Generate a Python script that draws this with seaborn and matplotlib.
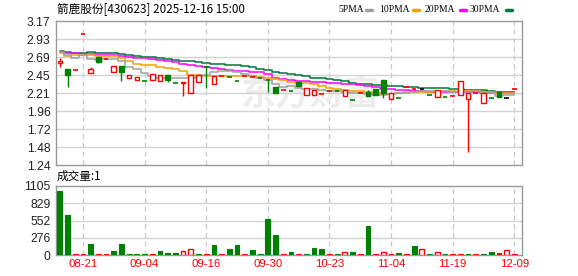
import numpy as np
import pandas as pd
import matplotlib
matplotlib.use("Agg")
import matplotlib.pyplot as plt
from matplotlib.lines import Line2D
import seaborn as sns

# ---------------- data ----------------
title_text = "箭鹿股份[430623] 2025-12-16 15:00"
vol_label = "成交量:1"

opens = [2.61, 2.53, 2.51, 3.00, 2.47, 2.69, 2.66, 2.48, 2.57, 2.40,
         2.38, 2.37, 2.38, 2.36, 2.44, 2.34, 2.345, 2.21, 2.35, 2.56,
         2.33, 2.43, 2.42, 2.36, 2.43, 2.415, 2.41, 2.375, 2.28, 2.245,
         2.235, 2.35, 2.18, 2.18, 2.185, 2.23, 2.23, 2.17, 2.115, 2.20,
         2.225, 2.26, 2.38, 2.13, 2.136, 2.29, 2.255, 2.255, 2.176, 2.145,
         2.145, 2.163, 2.18, 2.12, 2.21, 2.07, 2.136, 2.22, 2.136, 2.255]
highs = [2.68, 2.53, 2.51, 3.00, 2.55, 2.69, 2.66, 2.57, 2.57, 2.44,
         2.42, 2.37, 2.46, 2.44, 2.44, 2.34, 2.355, 2.44, 2.44, 2.57,
         2.43, 2.43, 2.42, 2.36, 2.43, 2.415, 2.41, 2.39, 2.28, 2.245,
         2.235, 2.35, 2.27, 2.25, 2.185, 2.23, 2.23, 2.24, 2.115, 2.20,
         2.24, 2.26, 2.38, 2.20, 2.136, 2.29, 2.27, 2.255, 2.176, 2.247,
         2.145, 2.163, 2.36, 2.21, 2.21, 2.21, 2.136, 2.225, 2.136, 2.255]
lows = [2.55, 2.29, 2.51, 3.00, 2.47, 2.61, 2.66, 2.48, 2.37, 2.40,
        2.38, 2.37, 2.38, 2.36, 2.35, 2.34, 2.17, 2.21, 2.35, 2.27,
        2.33, 2.43, 2.42, 2.36, 2.43, 2.415, 2.41, 2.22, 2.21, 2.245,
        2.235, 2.30, 2.18, 2.18, 2.185, 2.23, 2.23, 2.17, 2.115, 2.20,
        2.16, 2.18, 2.14, 2.13, 2.136, 2.29, 2.25, 2.255, 2.176, 2.145,
        2.145, 2.163, 2.18, 1.41, 2.21, 2.07, 2.136, 2.145, 2.136, 2.255]
closes = [2.63, 2.45, 2.51, 3.00, 2.53, 2.62, 2.66, 2.57, 2.48, 2.44,
          2.42, 2.37, 2.46, 2.44, 2.38, 2.34, 2.355, 2.44, 2.44, 2.56,
          2.43, 2.43, 2.42, 2.36, 2.43, 2.415, 2.41, 2.375, 2.21, 2.245,
          2.235, 2.30, 2.27, 2.25, 2.185, 2.23, 2.23, 2.24, 2.115, 2.20,
          2.165, 2.18, 2.20, 2.20, 2.136, 2.29, 2.255, 2.255, 2.176, 2.247,
          2.145, 2.163, 2.36, 2.21, 2.21, 2.21, 2.136, 2.15, 2.136, 2.255]
# colour of flat (doji) candles: r red, g green, k black
doji_colors = ["r", "g", "r", "r", "r", "g", "r", "r", "g", "r",
               "r", "g", "r", "r", "g", "g", "r", "r", "r", "g",
               "r", "r", "g", "g", "r", "r", "g", "g", "g", "r",
               "g", "g", "r", "r", "r", "r", "g", "r", "g", "r",
               "g", "g", "g", "r", "g", "r", "r", "k", "g", "r",
               "g", "r", "r", "r", "r", "r", "g", "g", "k", "r"]

volumes = [1025, 646, 12, 12, 181, 12, 12, 69, 181, 16,
           16, 16, 12, 64, 32, 32, 64, 96, 16, 12,
           160, 12, 96, 160, 12, 80, 16, 577, 320, 12,
           48, 12, 16, 112, 96, 12, 16, 48, 48, 12,
           464, 12, 48, 12, 32, 12, 144, 96, 16, 48,
           16, 12, 12, 16, 12, 16, 48, 32, 80, 12]
# g green filled, r red filled, h red hollow
vol_styles = ["g", "g", "r", "r", "g", "r", "r", "g", "g", "g",
              "g", "g", "r", "g", "g", "g", "h", "h", "g", "r",
              "g", "r", "g", "g", "r", "g", "g", "g", "g", "r",
              "g", "r", "g", "g", "g", "r", "g", "h", "g", "r",
              "g", "r", "h", "r", "g", "r", "g", "h", "g", "h",
              "g", "r", "r", "g", "r", "g", "g", "r", "h", "r"]

ma5 = [2.75, 2.72, 2.68, 2.72, 2.66, 2.645, 2.66, 2.665, 2.64, 2.56,
       2.52, 2.47, 2.43, 2.41, 2.41, 2.40, 2.40, 2.41, 2.42, 2.45,
       2.49, 2.50, 2.50, 2.49, 2.46, 2.43, 2.40, 2.38, 2.32, 2.29,
       2.30, 2.27, 2.265, 2.255, 2.25, 2.235, 2.23, 2.22, 2.21, 2.205,
       2.19, 2.18, 2.18, 2.19, 2.20, 2.215, 2.225, 2.233, 2.235, 2.235,
       2.23, 2.225, 2.22, 2.225, 2.23, 2.22, 2.20, 2.17, 2.175, 2.18]
ma10 = [2.745, 2.70, 2.72, 2.72, 2.72, 2.705, 2.70, 2.695, 2.68, 2.63,
        2.60, 2.585, 2.575, 2.55, 2.535, 2.52, 2.505, 2.45, 2.44, 2.43,
        2.43, 2.43, 2.43, 2.43, 2.43, 2.43, 2.425, 2.41, 2.395, 2.375,
        2.35, 2.344, 2.34, 2.32, 2.30, 2.27, 2.255, 2.245, 2.235, 2.23,
        2.215, 2.205, 2.198, 2.198, 2.20, 2.207, 2.212, 2.216, 2.218, 2.222,
        2.226, 2.23, 2.233, 2.233, 2.228, 2.22, 2.212, 2.21, 2.21, 2.21]
ma20 = [2.754, 2.745, 2.735, 2.73, 2.725, 2.72, 2.715, 2.71, 2.70, 2.69,
        2.68, 2.67, 2.66, 2.645, 2.63, 2.615, 2.60, 2.585, 2.57, 2.555,
        2.54, 2.525, 2.515, 2.505, 2.495, 2.49, 2.48, 2.465, 2.41, 2.395,
        2.38, 2.37, 2.36, 2.357, 2.355, 2.345, 2.335, 2.328, 2.32, 2.31,
        2.30, 2.285, 2.265, 2.255, 2.247, 2.24, 2.233, 2.23, 2.225, 2.225,
        2.225, 2.225, 2.225, 2.22, 2.215, 2.21, 2.21, 2.21, 2.208, 2.208]
ma30 = [2.763, 2.754, 2.745, 2.745, 2.754, 2.745, 2.741, 2.737, 2.732, 2.719,
        2.705, 2.692, 2.683, 2.674, 2.665, 2.651, 2.638, 2.629, 2.616, 2.602,
        2.593, 2.589, 2.584, 2.576, 2.562, 2.549, 2.531, 2.513, 2.491, 2.473,
        2.455, 2.45, 2.433, 2.41, 2.40, 2.388, 2.375, 2.36, 2.344, 2.331,
        2.32, 2.313, 2.309, 2.30, 2.295, 2.291, 2.285, 2.278, 2.275, 2.27,
        2.268, 2.26, 2.256, 2.25, 2.247, 2.24, 2.233, 2.225, 2.22, 2.218]

date_tick_pos = [3, 11, 19, 27, 35, 43, 51, 59]
date_tick_labels = ["08-21", "09-04", "09-16", "09-30", "10-23", "11-04", "11-19", "12-09"]
price_tick_labels = ["1.24", "1.48", "1.72", "1.96", "2.21", "2.45", "2.69", "2.93", "3.17"]
vol_tick_labels = ["0", "276", "552", "829", "1105"]
price_min, price_max = 1.24, 3.17
vol_max = 1105
legend_labels = ["5PMA", "10PMA", "20PMA", "30PMA"]

# ---------------- style ----------------
sns.set_theme(style="white")
plt.rcParams["font.family"] = ["Liberation Sans", "DejaVu Sans"]
RED = "#ff0000"
GREEN = "#008000"
BLACK = "#000000"
MA_COLORS = ["#a0a0a0", "#f4a100", "#ff00ff", "#00783c"]
GRID = "#d2d2d2"
SPINE = "#999999"
CJK = ["Noto Sans CJK SC", "DejaVu Sans"]

W, H = 578, 276
fig = plt.figure(figsize=(W / 100, H / 100), dpi=100)
fig.patch.set_facecolor("white")


def fx(px):
    return px / W


def fy(py):
    return 1 - py / H


ax_p = fig.add_axes([fx(56), fy(165), fx(522) - fx(56), fy(21) - fy(165)])
ax_v = fig.add_axes([fx(56), fy(255), fx(522) - fx(56), fy(186) - fy(255)])

n = len(opens)
x = np.arange(n)
o = np.array(opens); c = np.array(closes); h = np.array(highs); l = np.array(lows)

for ax in (ax_p, ax_v):
    ax.set_xlim(-0.5, 60.0)
    for s in ax.spines.values():
        s.set_color(SPINE)
        s.set_linewidth(1.0)
    ax.tick_params(length=0, pad=4)
    for p in date_tick_pos:
        ax.axvline(p, color="#c8c8c8", lw=0.9, ls=(0, (4, 3)), zorder=0)

# watermark
ax_p.text(0.545, 0.49, "东方财富", transform=ax_p.transAxes, ha="center", va="center",
          fontsize=25, color="#ededed", fontweight="bold", family=CJK, zorder=0)

# price axis
pt = np.linspace(price_min, price_max, 9)
ax_p.set_ylim(price_min, price_max)
ax_p.set_yticks(pt)
ax_p.set_yticklabels(price_tick_labels, fontsize=8.7, color="#222222")
ax_p.set_xticks([])
for v in pt[1:-1]:
    ax_p.axhline(v, color=GRID, lw=1.0, zorder=0)

# MA lines through seaborn
ma_df = pd.DataFrame({"idx": x, "ma5": ma5, "ma10": ma10, "ma20": ma20, "ma30": ma30})
for col, colr in zip(["ma30", "ma20", "ma10", "ma5"], MA_COLORS[::-1]):
    sns.lineplot(data=ma_df, x="idx", y=col, ax=ax_p, color=colr, lw=1.1,
                 drawstyle="steps-mid", estimator=None, zorder=2)
ax_p.set_xlabel(""); ax_p.set_ylabel("")

# candles
bw = 0.6
for i in range(n):
    if abs(c[i] - o[i]) < 1e-9:
        colr = {"r": RED, "g": GREEN, "k": BLACK}[doji_colors[i]]
        if h[i] > l[i]:
            ax_p.vlines(i, l[i], h[i], color=colr, lw=1.0, zorder=3)
        ax_p.hlines(c[i], i - bw / 2, i + bw / 2, color=colr, lw=1.2, zorder=4)
    elif c[i] > o[i]:
        ax_p.vlines(i, l[i], o[i], color=RED, lw=1.0, zorder=3)
        ax_p.vlines(i, c[i], h[i], color=RED, lw=1.0, zorder=3)
        ax_p.bar(i, c[i] - o[i], bottom=o[i], width=bw, facecolor="white",
                 edgecolor=RED, lw=1.0, zorder=4)
    else:
        ax_p.vlines(i, l[i], h[i], color=GREEN, lw=1.0, zorder=3)
        ax_p.bar(i, o[i] - c[i], bottom=c[i], width=bw, facecolor=GREEN,
                 edgecolor=GREEN, lw=1.0, zorder=4)

# volume axis
vt = np.linspace(0, vol_max, 5)
ax_v.set_ylim(0, vol_max)
ax_v.set_yticks(vt)
ax_v.set_yticklabels(vol_tick_labels, fontsize=8.7, color="#222222")
for v in vt[1:-1]:
    ax_v.axhline(v, color=GRID, lw=1.0, zorder=0)
for i in range(n):
    st = vol_styles[i]
    if st == "g":
        ax_v.bar(i, volumes[i], width=0.62, facecolor=GREEN, edgecolor=GREEN, lw=0.8, zorder=3)
    elif st == "r":
        ax_v.bar(i, volumes[i], width=0.62, facecolor=RED, edgecolor=RED, lw=0.8, zorder=3)
    else:
        ax_v.bar(i, volumes[i], width=0.62, facecolor="white", edgecolor=RED, lw=1.0, zorder=3)
ax_v.set_xticks(date_tick_pos)
ax_v.set_xticklabels(date_tick_labels, fontsize=8.2, color=RED)
ax_v.tick_params(axis="x", pad=3)

# texts
fig.text(fx(57), fy(9), title_text, ha="left", va="center", fontsize=8.4,
         family=CJK, color="#000000")
fig.text(fx(57), fy(176), vol_label, ha="left", va="center", fontsize=8.4,
         family=CJK, color="#000000")

leg_x = [338, 379, 425, 470]
dash_x = [366, 413, 460, 506]
for lab, lx, dx, colr in zip(legend_labels, leg_x, dash_x, MA_COLORS):
    fig.text(fx(lx), fy(9.5), lab, ha="left", va="center", fontsize=6.9,
             family=["Liberation Serif", "DejaVu Serif"], color="#000000")
    fig.add_artist(Line2D([fx(dx), fx(dx + 6)], [fy(9.5), fy(9.5)], color=colr, lw=2.5,
                          transform=fig.transFigure))

fig.savefig("out.png", dpi=100, facecolor="white")
